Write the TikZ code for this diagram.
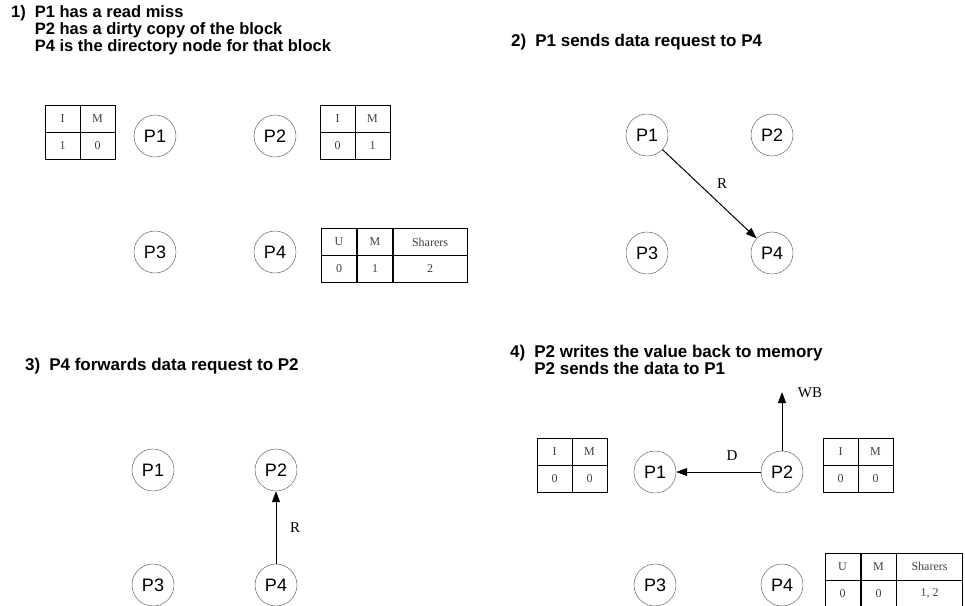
\documentclass[tikz,border=0pt]{standalone}
\usepackage{fontspec}
\setmainfont{Liberation Sans}
\newfontfamily\cellfont{Liberation Serif}
\usetikzlibrary{arrows.meta}
\begin{document}
\begin{tikzpicture}[x=1pt,y=-1pt,
  proc/.style={draw=black!70,circle,minimum size=42pt,inner sep=0pt,font=\fontsize{18}{18}\selectfont},
  cell/.style={draw=black,line width=0.8pt,minimum width=35pt,minimum height=27pt,inner sep=0pt,font=\cellfont\fontsize{12}{12}\selectfont,text=black!75},
  widecell/.style={cell,minimum width=74pt},
  title/.style={anchor=west,align=left,inner sep=0pt,font=\bfseries\fontsize{17}{17}\selectfont},
  msg/.style={-{Triangle[length=11pt,width=8pt]},line width=1pt},
  lbl/.style={font=\cellfont\fontsize{15}{15}\selectfont}]
\useasboundingbox (0,0) rectangle (965,605);
\newcommand{\numgap}{\hspace*{9pt}}
\newcommand{\numpad}{\hphantom{1)}\numgap}

% ---------- 1) initial state ----------
\node[title,font=\bfseries\fontsize{16.5}{17}\selectfont] (t1) at (11,30) {1)\numgap P1 has a read miss\\\numpad P2 has a dirty copy of the block\\\numpad P4 is the directory node for that block};
\node[proc] (a1) at (155,136) {P1};
\node[proc] (a2) at (275,136) {P2};
\node[proc] (a3) at (155,252) {P3};
\node[proc] (a4) at (275,252) {P4};
% cache state of P1
\node[cell] (a1i) at (62.5,118.5) {I};
\node[cell] (a1m) at (97.5,118.5) {M};
\node[cell] (a1iv) at (62.5,145.5) {1};
\node[cell] (a1mv) at (97.5,145.5) {0};
% cache state of P2
\node[cell] (a2i) at (337.5,118.5) {I};
\node[cell] (a2m) at (372.5,118.5) {M};
\node[cell] (a2iv) at (337.5,145.5) {0};
\node[cell] (a2mv) at (372.5,145.5) {1};
% directory entry at P4
\node[cell] (a4u) at (339,242) {U};
\node[cell] (a4m) at (375,242) {M};
\node[widecell] (a4s) at (430,242) {Sharers};
\node[cell] (a4uv) at (339,269) {0};
\node[cell] (a4mv) at (375,269) {1};
\node[widecell] (a4sv) at (430,269) {2};

% ---------- 2) request to the directory ----------
\node[title] (t2) at (511,42) {2)\numgap P1 sends data request to P4};
\node[proc] (b1) at (647,135) {P1};
\node[proc] (b2) at (772,135) {P2};
\node[proc] (b3) at (647,253) {P3};
\node[proc] (b4) at (772,253) {P4};
\draw[msg] (b1) -- (b4);
\node[lbl] (br) at (722,184) {R};

% ---------- 3) forwarded request ----------
\node[title] (t3) at (25,366) {3)\numgap P4 forwards data request to P2};
\node[proc] (c1) at (153,470) {P1};
\node[proc] (c2) at (276,470) {P2};
\node[proc] (c3) at (153,585) {P3};
\node[proc] (c4) at (276,585) {P4};
\draw[msg] (c4) -- (c2);
\node[lbl] (cr) at (295,528) {R};

% ---------- 4) write back and reply ----------
\node[title] (t4) at (510,360) {4)\numgap P2 writes the value back to memory\\\numpad P2 sends the data to P1};
\node[proc] (d1) at (655,472) {P1};
\node[proc] (d2) at (782,472) {P2};
\node[proc] (d3) at (655,585) {P3};
\node[proc] (d4) at (782,585) {P4};
\coordinate (wb) at (782,392);
\draw[msg] (d2) -- (wb);
\node[lbl] (dwb) at (810,393) {WB};
\draw[msg] (d2) -- (d1);
\node[lbl] (dd) at (732,456) {D};
% cache state of P1
\node[cell] (d1i) at (554.5,451.5) {I};
\node[cell] (d1m) at (589.5,451.5) {M};
\node[cell] (d1iv) at (554.5,478.5) {0};
\node[cell] (d1mv) at (589.5,478.5) {0};
% cache state of P2
\node[cell] (d2i) at (840.5,451.5) {I};
\node[cell] (d2m) at (875.5,451.5) {M};
\node[cell] (d2iv) at (840.5,478.5) {0};
\node[cell] (d2mv) at (875.5,478.5) {0};
% directory entry at P4
\node[cell] (d4u) at (842.5,566.5) {U};
\node[cell] (d4m) at (878.5,566.5) {M};
\node[cell,minimum width=66pt] (d4s) at (929.5,566.5) {Sharers};
\node[cell] (d4uv) at (842.5,593.5) {0};
\node[cell] (d4mv) at (878.5,593.5) {0};
\node[cell,minimum width=66pt] (d4sv) at (929.5,593.5) {1, 2};
\end{tikzpicture}
\end{document}
